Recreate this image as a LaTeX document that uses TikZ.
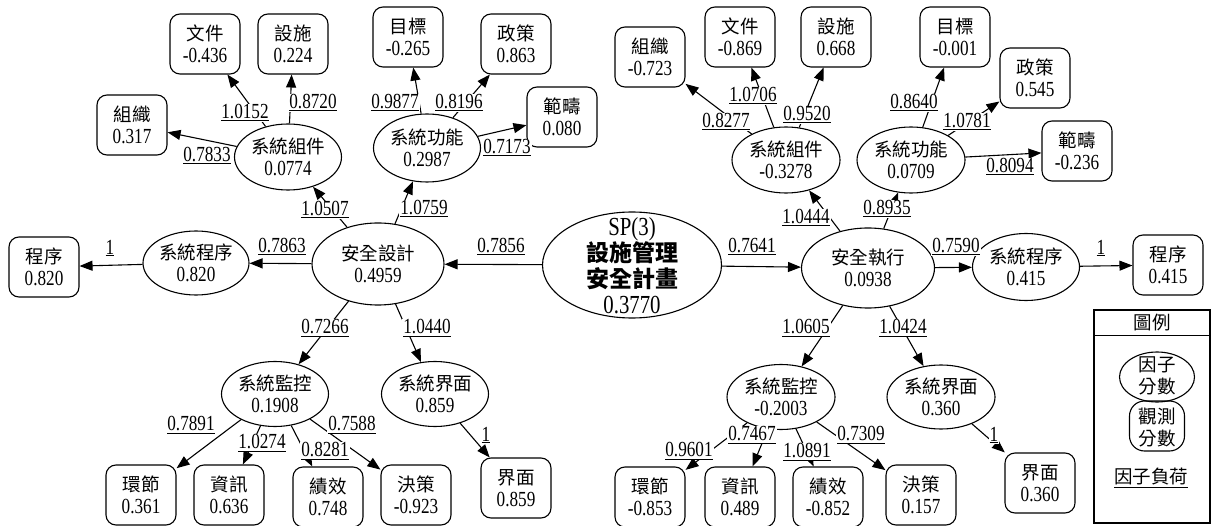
\documentclass[tikz,border=0pt]{standalone}
\usepackage{fontspec}
\setmainfont{Liberation Serif}[FakeStretch=0.8]
\newfontfamily\cjkf{Noto Sans CJK TC}
\usetikzlibrary{arrows.meta,shapes.geometric}
\newcommand\twoline[2]{{\cjkf\fontsize{18.5}{22}\selectfont #1}\\#2}
\tikzset{
  every node/.style={font=\fontsize{21.5}{22}\selectfont},
  lat/.style={draw, ellipse, line width=1.1pt, inner sep=0pt, minimum width=107pt, minimum height=66pt, align=center},
  obs/.style={draw, rounded corners=10pt, line width=1.1pt, inner sep=0pt, minimum width=70pt, minimum height=60pt, align=center},
  lbl/.style={fill=white, inner sep=1pt},
  arr/.style={line width=1.1pt, -{Triangle[length=13pt,width=10pt]}},
}
\begin{document}
\begin{tikzpicture}[x=1pt,y=-1pt]
\useasboundingbox (0,0) rectangle (1212,526);
% ---------- left side ----------
\node[obs] (zzL) at (132,125) {\twoline{組織}{0.317}};
\node[obs] (wjL) at (205,44) {\twoline{文件}{-0.436}};
\node[obs] (ssL) at (293,44) {\twoline{設施}{0.224}};
\node[obs] (mbL) at (408,37) {\twoline{目標}{-0.265}};
\node[obs] (zcL) at (516,44) {\twoline{政策}{0.863}};
\node[obs] (fcL) at (562,117) {\twoline{範疇}{0.080}};
\node[lat] (zjL) at (288,157) {\twoline{系統組件}{0.0774}};
\node[lat, minimum height=68pt] (gnL) at (427,148) {\twoline{系統功能}{0.2987}};
\node[lat, minimum width=132pt, minimum height=82pt] (aqsj) at (378,264) {\twoline{安全設計}{0.4959}};
\node[lat, minimum width=106pt, minimum height=64pt] (cxL) at (196,263) {\twoline{系統程序}{0.820}};
\node[obs] (pcL) at (44,267) {\twoline{程序}{0.820}};
\node[lat, minimum height=65pt] (jkL) at (275,394) {\twoline{系統監控}{0.1908}};
\node[lat, minimum height=65pt] (jmL) at (435,394) {\twoline{系統界面}{0.859}};
\node[obs] (hjL) at (141,495) {\twoline{環節}{0.361}};
\node[obs] (zxL) at (229,495) {\twoline{資訊}{0.636}};
\node[obs] (jxL) at (328,497) {\twoline{績效}{0.748}};
\node[obs] (jcL) at (416,495) {\twoline{決策}{-0.923}};
\node[obs] (mmL) at (516,488) {\twoline{界面}{0.859}};
% ---------- centre ----------
\node[draw, ellipse, line width=1.1pt, minimum width=179pt, minimum height=106pt, inner sep=0pt] (sp) at (632,265) {};
\node[font=\fontsize{26}{26}\selectfont, align=center] (spt) at (632,266) {SP(3)\\{\cjkf\bfseries\fontsize{23}{26}\selectfont 設施管理}\\{\cjkf\bfseries\fontsize{23}{26}\selectfont 安全計畫}\\0.3770};
% ---------- right side ----------
\node[obs] (zzR) at (650,57) {\twoline{組織}{-0.723}};
\node[obs] (wjR) at (740,37) {\twoline{文件}{-0.869}};
\node[obs] (ssR) at (836,37) {\twoline{設施}{0.668}};
\node[obs] (mbR) at (955,37) {\twoline{目標}{-0.001}};
\node[obs] (zcR) at (1035,78) {\twoline{政策}{0.545}};
\node[obs] (fcR) at (1077,151) {\twoline{範疇}{-0.236}};
\node[lat, minimum width=108pt] (zjR) at (786,160) {\twoline{系統組件}{-0.3278}};
\node[lat, minimum width=108pt] (gnR) at (911,160) {\twoline{系統功能}{0.0709}};
\node[lat, minimum width=133pt, minimum height=80pt] (aqzx) at (868,268) {\twoline{安全執行}{0.0938}};
\node[lat, minimum height=67pt] (cxR) at (1026,267) {\twoline{系統程序}{0.415}};
\node[obs] (pcR) at (1168,265) {\twoline{程序}{0.415}};
\node[lat, minimum width=108pt, minimum height=65pt] (jkR) at (781,397) {\twoline{系統監控}{-0.2003}};
\node[lat, minimum width=108pt, minimum height=64pt] (jmR) at (941,397) {\twoline{系統界面}{0.360}};
\node[obs] (hjR) at (650,497) {\twoline{環節}{-0.853}};
\node[obs] (zxR) at (740,497) {\twoline{資訊}{0.489}};
\node[obs] (jxR) at (828,497) {\twoline{績效}{-0.852}};
\node[obs] (jcR) at (921,495) {\twoline{決策}{0.157}};
\node[obs] (mmR) at (1040,483) {\twoline{界面}{0.360}};
% ---------- legend ----------
\node[draw, line width=1.1pt, minimum width=116pt, minimum height=213pt, inner sep=0pt] (lg) at (1152,416.5) {};
\draw[line width=1.1pt] ([yshift=-26pt]lg.north west) -- ([yshift=-26pt]lg.north east);
\node[font=\cjkf\fontsize{18.5}{22}\selectfont] (lgt) at (1152,323) {圖例};
\node[draw, ellipse, line width=1.1pt, minimum width=75pt, minimum height=50pt, inner sep=0pt] (lge) at (1157,377) {};
\node[font=\cjkf\fontsize{18.5}{22}\selectfont, align=center] (lget) at (1157,376) {因子\\分數};
\node[draw, rounded corners=15pt, line width=1.1pt, minimum width=55pt, minimum height=50pt, inner sep=0pt] (lgo) at (1157,426) {};
\node[font=\cjkf\fontsize{18.5}{22}\selectfont, align=center] (lgot) at (1157,428) {觀測\\分數};
\node (lgl) at (1151,478) {\underline{\cjkf\fontsize{18.5}{22}\selectfont 因子負荷}};
% ---------- connectors ----------
\draw[arr] (sp) -- (aqsj);
\draw[arr] (aqsj) -- (cxL);
\draw[arr] (cxL) -- (pcL);
\draw[arr] (aqsj) -- (zjL);
\draw[arr] (aqsj) -- (gnL);
\draw[arr] (aqsj) -- (jkL);
\draw[arr] (aqsj) -- (jmL);
\draw[arr] (zjL) -- (zzL);
\draw[arr] (zjL) -- (wjL);
\draw[arr] (zjL) -- (ssL);
\draw[arr] (gnL) -- (mbL);
\draw[arr] (gnL) -- (zcL);
\draw[arr] (gnL) -- (fcL);
\draw[arr] (jkL) -- (hjL);
\draw[arr] (jkL) -- (zxL);
\draw[arr] (jkL) -- (jxL);
\draw[arr] (jkL) -- (jcL);
\draw[arr] (jmL) -- (mmL);
\draw[arr] (sp) -- (aqzx);
\draw[arr] (aqzx) -- (cxR);
\draw[arr] (cxR) -- (pcR);
\draw[arr] (aqzx) -- (zjR);
\draw[arr] (aqzx) -- (gnR);
\draw[arr] (aqzx) -- (jkR);
\draw[arr] (aqzx) -- (jmR);
\draw[arr] (zjR) -- (zzR);
\draw[arr] (zjR) -- (wjR);
\draw[arr] (zjR) -- (ssR);
\draw[arr] (gnR) -- (mbR);
\draw[arr] (gnR) -- (zcR);
\draw[arr] (gnR) -- (fcR);
\draw[arr] (jkR) -- (hjR);
\draw[arr] (jkR) -- (zxR);
\draw[arr] (jkR) -- (jxR);
\draw[arr] (jkR) -- (jcR);
\draw[arr] (jmR) -- (mmR);
% ---------- loadings ----------
\node[lbl] (a1) at (245,113) {\underline{1.0152}};
\node[lbl] (a2) at (313,103) {\underline{0.8720}};
\node[lbl] (a3) at (207,156) {\underline{0.7833}};
\node[lbl] (a4) at (395,103) {\underline{0.9877}};
\node[lbl] (a5) at (459,103) {\underline{0.8196}};
\node[lbl] (a6) at (507,148) {\underline{0.7173}};
\node[lbl] (a7) at (325,210) {\underline{1.0507}};
\node[lbl] (a8) at (424,209) {\underline{1.0759}};
\node[lbl] (a9) at (282,247) {\underline{0.7863}};
\node[lbl] (a10) at (110,248) {\underline{1}};
\node[lbl] (a11) at (501,247) {\underline{0.7856}};
\node[lbl] (a12) at (325,328) {\underline{0.7266}};
\node[lbl] (a13) at (427,328) {\underline{1.0440}};
\node[lbl] (a14) at (191,425) {\underline{0.7891}};
\node[lbl] (a15) at (262,443) {\underline{1.0274}};
\node[lbl] (a16) at (325,451) {\underline{0.8281}};
\node[lbl] (a17) at (352,425) {\underline{0.7588}};
\node[lbl] (a18) at (486,435) {\underline{1}};
\node[lbl] (b1) at (726,122) {\underline{0.8277}};
\node[lbl] (b2) at (753,96) {\underline{1.0706}};
\node[lbl] (b3) at (807,115) {\underline{0.9520}};
\node[lbl] (b4) at (914,103) {\underline{0.8640}};
\node[lbl] (b5) at (967,122) {\underline{1.0781}};
\node[lbl] (b6) at (1010,167) {\underline{0.8094}};
\node[lbl] (b7) at (806,218) {\underline{1.0444}};
\node[lbl] (b8) at (887,209) {\underline{0.8935}};
\node[lbl] (b9) at (752,247) {\underline{0.7641}};
\node[lbl] (b10) at (956,247) {\underline{0.7590}};
\node[lbl] (b11) at (1101,248) {\underline{1}};
\node[lbl] (b12) at (806,328) {\underline{1.0605}};
\node[lbl] (b13) at (903,328) {\underline{1.0424}};
\node[lbl] (b14) at (689,451) {\underline{0.9601}};
\node[lbl] (b15) at (752,435) {\underline{0.7467}};
\node[lbl] (b16) at (807,452) {\underline{1.0891}};
\node[lbl] (b17) at (861,435) {\underline{0.7309}};
\node[lbl] (b18) at (994,435) {\underline{1}};
\end{tikzpicture}
\end{document}
